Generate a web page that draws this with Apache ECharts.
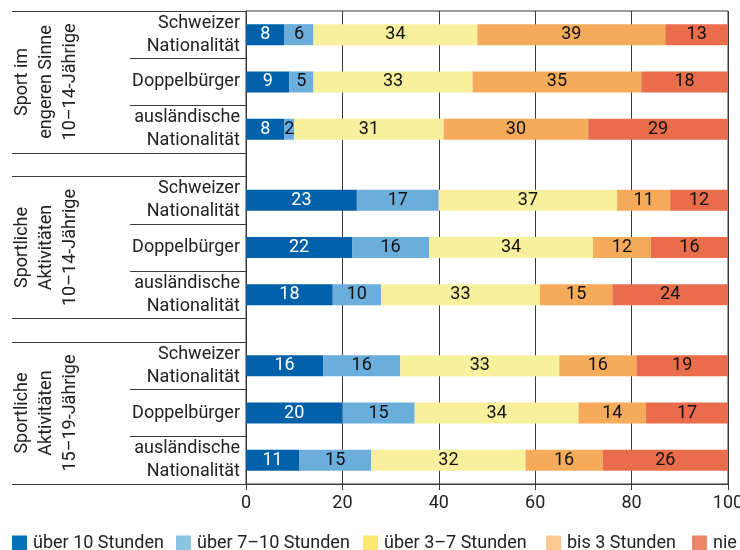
<!DOCTYPE html>
<html><head><meta charset="utf-8">
<script src="https://cdn.jsdelivr.net/npm/echarts@6/dist/echarts.min.js"></script>
<style>html,body{margin:0;padding:0;background:#fff;overflow:hidden}#c{width:740px;height:550px}</style>
</head><body><div id="c"></div>
<script>
// ---- data ----
const groups = ['Sport im\nengeren Sinne\n10–14-Jährige', 'Sportliche\nAktivitäten\n10–14-Jährige', 'Sportliche\nAktivitäten\n15–19-Jährige'];
const rowLabels = ['Schweizer\nNationalität', 'Doppelbürger', 'ausländische\nNationalität'];
const seriesNames = ['über 10 Stunden', 'über 7–10 Stunden', 'über 3–7 Stunden', 'bis 3 Stunden', 'nie'];
const over10   = [8, 9, 8, 23, 22, 18, 16, 20, 11];
const over7to10 = [6, 5, 2, 17, 16, 10, 16, 15, 15];
const over3to7 = [34, 33, 31, 37, 34, 33, 33, 34, 32];
const upTo3    = [39, 35, 30, 11, 12, 15, 16, 14, 16];
const never    = [13, 18, 29, 12, 16, 24, 19, 17, 26];
const xTicks = [0, 20, 40, 60, 80, 100];

// ---- styles ----
const FONT = "Roboto, 'Open Sans', sans-serif";
const FS = 18;
const barColors = ['#0061AB', '#6BAEDC', '#F8F09C', '#F5AB5A', '#E96C4B'];
const legendColors = ['#0072BB', '#8AC5E6', '#FCE86E', '#FCCA8F', '#EF8468'];
const labelColors = ['#fff', '#111', '#111', '#111', '#111'];
const lineCol = '#3a3a3a';

// slot layout: 21 positions, bars at 1,3,5 / 8,10,12 / 15,17,19
const N = 21;
const rowIndex = r => 1 + 2 * (r % 3) + 7 * Math.floor(r / 3);
const cats = new Array(N).fill('');
for (let r = 0; r < 9; r++) cats[rowIndex(r)] = rowLabels[r % 3];
const shortSep = [2, 4, 9, 11, 16, 18];
const longSep = [0, 6, 7, 13, 14, 20];
const groupCenter = [3, 10, 17];

function expand(arr) {
  const out = new Array(N).fill('-');
  arr.forEach((v, r) => { out[rowIndex(r)] = v; });
  return out;
}
const allVals = [over10, over7to10, over3to7, upTo3, never];

const chart = echarts.init(document.getElementById('c'), null, {renderer: 'canvas'});
const legendLeft = [12, 176, 363, 546, 692];
const option = {
  animation: false,
  textStyle: {fontFamily: FONT},
  grid: {left: 246, right: 12, top: 11, bottom: 66, show: true, borderColor: lineCol, borderWidth: 1,
    containLabel: false, outerBoundsMode: 'none'},
  legend: seriesNames.map((n, i) => ({
    data: [{name: n, itemStyle: {color: legendColors[i]}}],
    left: legendLeft[i], top: 534, padding: 0, icon: 'rect', itemWidth: 15, itemHeight: 15, itemGap: 0,
    selectedMode: false,
    textStyle: {fontFamily: FONT, fontSize: FS, color: '#222', padding: [0, 0, 0, 1]}
  })),
  xAxis: {
    type: 'value', min: 0, max: 100, interval: 20,
    axisLine: {show: true, lineStyle: {color: lineCol, width: 1}},
    axisTick: {show: true, length: 6, lineStyle: {color: lineCol}},
    axisLabel: {fontFamily: FONT, fontSize: FS, color: '#222', margin: 10,
      formatter: v => xTicks.includes(v) ? String(v) : ''},
    splitLine: {show: true, lineStyle: {color: lineCol, width: 1}}
  },
  yAxis: [{
    type: 'category', data: cats, inverse: true, boundaryGap: false,
    axisLine: {show: true, lineStyle: {color: lineCol}},
    axisTick: {show: true, length: 116, interval: (i) => shortSep.includes(i), lineStyle: {color: lineCol}},
    axisLabel: {interval: 0, fontFamily: FONT, fontSize: FS, lineHeight: 23, color: '#222', margin: 6, align: 'right'},
    splitLine: {show: false}
  }, {
    type: 'category', data: cats, inverse: true, boundaryGap: false, position: 'left',
    axisLine: {show: false},
    axisTick: {show: true, length: 234, interval: (i) => longSep.includes(i), lineStyle: {color: lineCol}},
    axisLabel: {show: false},
    splitLine: {show: false}
  }],
  series: seriesNames.map((n, i) => ({
    name: n, type: 'bar', stack: 'total', yAxisIndex: 0, barWidth: 21,
    data: expand(allVals[i]),
    itemStyle: {color: barColors[i]},
    label: {show: true, position: 'inside', color: labelColors[i], fontFamily: FONT, fontSize: FS}
  }))
};
chart.setOption(option);

// group labels placed from axis positions
const gx = 46;
chart.setOption({
  graphic: groups.map((g, k) => {
    const y = chart.convertToPixel({yAxisIndex: 0}, groupCenter[k]);
    return {
      type: 'text', x: gx, y: y, rotation: Math.PI / 2,
      style: {text: g, fontFamily: FONT, fontSize: FS, lineHeight: 24, fill: '#222', align: 'center', verticalAlign: 'middle'}
    };
  })
});
</script></body></html>
